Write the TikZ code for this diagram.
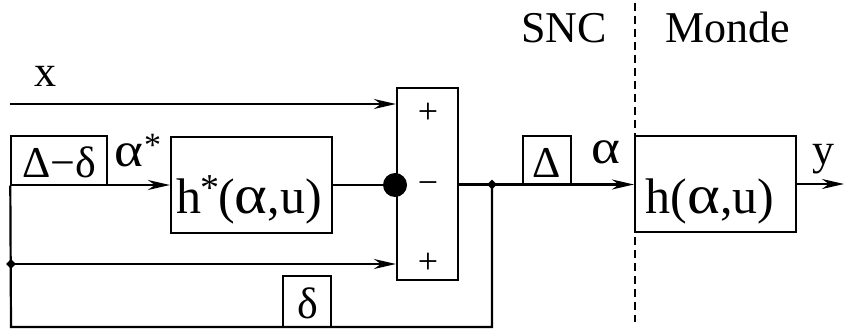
\documentclass[tikz,border=0pt]{standalone}
\usepackage{fontspec}
\setmainfont{Liberation Serif}
\usetikzlibrary{arrows.meta,shapes.geometric}
\newcommand\galpha{\scalebox{1.25}[1.1]{α}}
\tikzset{
  blk/.style={draw, line width=2.2pt, inner sep=0pt},
  tagbox/.style={draw, line width=1.4pt, inner sep=0pt},
  wire/.style={line width=2.2pt},
  arr/.style={wire, -{Stealth[length=22pt,width=10pt,inset=7pt]}},
  lbl/.style={inner sep=0pt, anchor=base, font=\fontsize{44}{48}\selectfont},
  big/.style={inner sep=0pt, anchor=base, font=\fontsize{50}{56}\selectfont},
  sgn/.style={inner sep=0pt, font=\fontsize{36}{40}\selectfont},
  junc/.style={diamond, fill=black, inner sep=0pt, minimum size=10pt},
}
\begin{document}
\begin{tikzpicture}[x=1pt,y=-1pt]
\useasboundingbox (0,0) rectangle (845,329);
% boxes
\node[blk, minimum width=61pt, minimum height=192pt] (sum) at (427.5,184) {};
\node[blk, minimum width=161pt, minimum height=96pt] (hs) at (251.5,185) {};
\node[blk, minimum width=161pt, minimum height=96pt] (h) at (715.5,184) {};
\node[tagbox, minimum width=96pt, minimum height=49pt] (dd) at (59,160.5) {};
\node[tagbox, minimum width=48pt, minimum height=48pt] (D) at (547,160) {};
\node[tagbox, minimum width=48pt, minimum height=51pt] (d) at (307,301.5) {};
% texts
\node[lbl] (tx) at (45,86) {x};
\node[lbl, anchor=base west] (tas) at (114,166) {\galpha\kern1pt\raisebox{10pt}{\fontsize{34}{36}\selectfont *}};
\node[lbl] (tdd) at (59,177) {Δ−δ};
\node[big] (ths) at (249,213) {h\kern-1pt\raisebox{13pt}{\fontsize{38}{40}\selectfont *}\kern-1pt(\galpha,u)};
\node[big] (th) at (710,213) {h(\galpha,u)};
\node[lbl] (td) at (308,318) {δ};
\node[lbl] (tD) at (547,177) {Δ};
\node[lbl] (ta) at (606,163) {\galpha};
\node[lbl] (ty) at (823,164) {y};
\node[lbl] (tsnc) at (564,43) {SNC};
\node[lbl] (tmonde) at (728,43) {Monde};
\node[sgn] (p1) at (428,113) {+};
\node[sgn] (m1) at (428,188) {−};
\node[sgn] (p2) at (428,263) {+};
% coordinates
\coordinate (xs) at (10,104);
\coordinate (L1) at (11,185);
\coordinate (L3) at (11,327);
\coordinate (J2) at (492,327);
\coordinate (out) at (844,184);
\coordinate (ds1) at (635,3);
\coordinate (ds2) at (635,322);
\node[junc] (L2) at (11,264) {};
\node[junc] (J1) at (492,184.5) {};
\node[circle, fill=black, inner sep=0pt, minimum size=24pt] (dot) at (395,185) {};
% wires
\draw[arr] (xs) -- (sum.west |- xs);
\draw[arr] (L1) -- (hs.west);
\draw[wire] (hs.east) -- (dot);
\draw[arr] (L2.center) -- (sum.west |- L2);
\draw[wire] (dd.south west) -- (L3) -- (J2) -- (J1.center);
\draw[wire] (sum.east |- J1) -- (J1.center);
\draw[arr] (J1.center) -- (h.west |- J1);
\draw[arr] (h.east) -- (out);
\draw[line width=1.6pt, dash pattern=on 8pt off 5pt] (ds1) -- (ds2);
\end{tikzpicture}
\end{document}
